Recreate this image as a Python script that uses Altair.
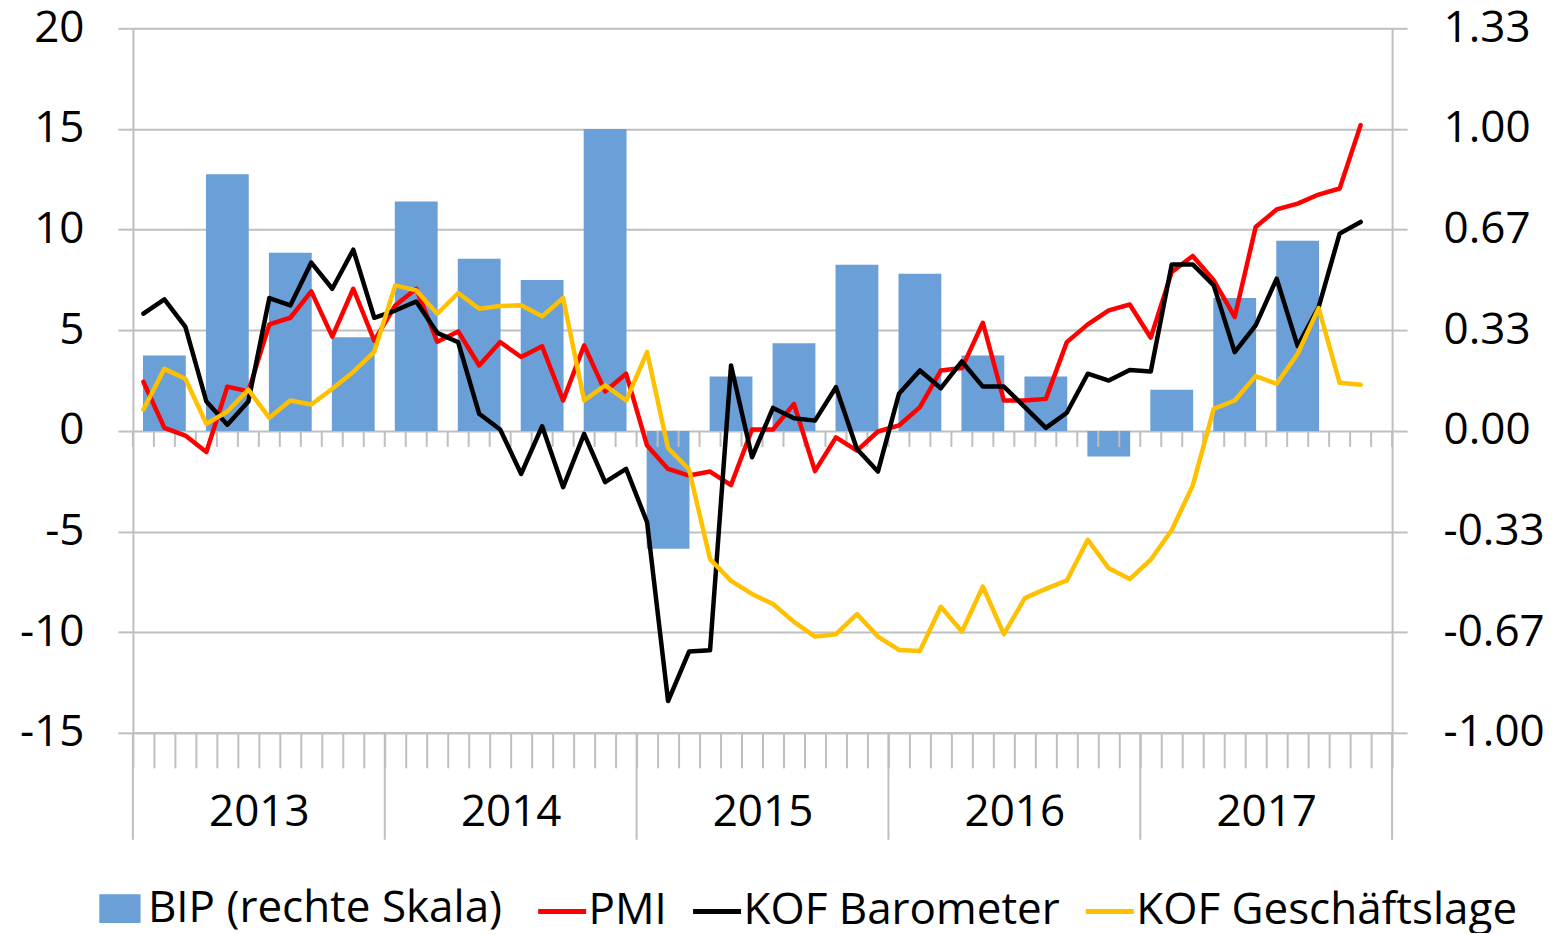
import altair as alt
import pandas as pd

# ---------------- data ----------------
years = [2013, 2014, 2015, 2016, 2017]
n_months = 60

# Quarterly GDP growth (right scale), 2013Q1 .. 2017Q3
bip = [0.25, 0.85, 0.59, 0.31,
       0.76, 0.57, 0.50, 1.00,
       -0.39, 0.18, 0.29, 0.55,
       0.52, 0.25, 0.18, -0.085,
       0.136, 0.44, 0.63]

# Monthly series, Jan 2013 .. Nov 2017 (left scale)
pmi = [2.44, 0.15, -0.23, -1.05, 2.2, 1.96, 5.29, 5.62, 6.93, 4.68, 7.06, 4.48,
       6.23, 7.06, 4.43, 4.94, 3.25, 4.41, 3.67, 4.2, 1.51, 4.25, 1.96, 2.84,
       -0.73, -1.89, -2.22, -2.02, -2.69, 0.07, 0.07, 1.34, -2.0, -0.32, -0.98, -0.03,
       0.27, 1.18, 3.0, 3.12, 5.37, 1.51, 1.51, 1.59, 4.41, 5.29, 5.99, 6.28,
       4.63, 7.9, 8.69, 7.48, 5.66, 10.13, 11.0, 11.29, 11.74, 12.04, 15.19]

kof_barometer = [5.82, 6.53, 5.17, 1.46, 0.31, 1.46, 6.6, 6.23, 8.36, 7.06, 9.0, 5.62,
                 5.98, 6.43, 4.87, 4.4, 0.85, 0.07, -2.14, 0.23, -2.8, -0.15, -2.55, -1.89,
                 -4.54, -13.42, -10.96, -10.9, 3.25, -1.31, 1.14, 0.63, 0.51, 2.17, -0.9, -2.02,
                 1.84, 3.0, 2.12, 3.45, 2.2, 2.2, 1.18, 0.15, 0.9, 2.84, 2.5, 3.03,
                 2.95, 8.27, 8.27, 7.23, 3.91, 5.24, 7.56, 4.21, 6.15, 9.8, 10.38]

kof_lage = [1.06, 3.08, 2.59, 0.35, 0.96, 2.05, 0.65, 1.51, 1.31, 2.09, 2.93, 3.93,
            7.23, 6.98, 5.82, 6.85, 6.07, 6.2, 6.24, 5.69, 6.6, 1.51, 2.26, 1.51,
            3.91, -0.86, -1.92, -6.37, -7.45, -8.1, -8.6, -9.49, -10.22, -10.1, -9.1, -10.22,
            -10.88, -10.93, -8.74, -9.97, -7.73, -10.1, -8.31, -7.85, -7.43, -5.41, -6.83, -7.36,
            -6.4, -4.92, -2.72, 1.09, 1.51, 2.72, 2.34, 3.83, 6.1, 2.39, 2.29]

left_ticks = [-15, -10, -5, 0, 5, 10, 15, 20]
right_ticks = [v / 15 for v in left_ticks]

bar_name = "BIP (rechte Skala)"
bar_color = "#6A9FD8"
line_names = ["PMI", "KOF Barometer", "KOF Geschäftslage"]
line_colors = ["#FF0000", "#000000", "#FFC000"]

# ---------------- tables ----------------
rows = []
for name, vals in zip(line_names, [pmi, kof_barometer, kof_lage]):
    for i, v in enumerate(vals):
        rows.append({"series": name, "m": i + 0.5, "value": v})
lines_df = pd.DataFrame(rows)

bar_df = pd.DataFrame({"series": bar_name, "q": list(range(len(bip))), "value": bip})
bar_df["x0"] = bar_df["q"] * 3 + 1.5 - 1.02
bar_df["x1"] = bar_df["q"] * 3 + 1.5 + 1.02

month_ticks = pd.DataFrame({"m": list(range(n_months + 1))})
year_bounds = pd.DataFrame({"m": [12 * i for i in range(len(years) + 1)]})

GRAY = "#BFBFBF"
FONT = "Open Sans"
FS = 44

x_scale = alt.Scale(domain=[0, n_months], nice=False, zero=False)
x_axis = alt.Axis(
    values=list(range(n_months + 1)),
    labelExpr="datum.value % 12 == 6 ? toString(2013 + (datum.value - 6) / 12) : ''",
    labelOverlap=False, labelFlush=False, labelBound=False,
    tickSize=35, tickColor=GRAY, tickWidth=2,
    domainColor=GRAY, domainWidth=2, grid=False,
    labelFontSize=FS, labelFont=FONT, labelColor="black", labelPadding=23,
    title=None,
)

y_left_scale = alt.Scale(domain=[-15, 20], nice=False, zero=False)
y_left_axis = alt.Axis(
    orient="left", values=left_ticks,
    labelExpr="datum.value < 0 ? '-' + format(-datum.value, 'd') : format(datum.value, 'd')",
    grid=True, gridColor=GRAY, gridWidth=2,
    domainColor=GRAY, domainWidth=2,
    tickSize=15, tickColor=GRAY, tickWidth=2,
    labelFontSize=FS, labelFont=FONT, labelColor="black", labelPadding=34,
    title=None,
)
y_right_scale = alt.Scale(domain=[-1, 4 / 3], nice=False, zero=False)
y_right_axis = alt.Axis(
    orient="right", values=right_ticks,
    labelExpr="datum.value < -0.0001 ? '-' + format(-datum.value, '.2f') : format(abs(datum.value), '.2f')",
    grid=False, domainColor=GRAY, domainWidth=2,
    tickSize=15, tickColor=GRAY, tickWidth=2,
    labelFontSize=FS, labelFont=FONT, labelColor="black", labelPadding=36,
    title=None,
)

legend_common = dict(
    orient="none", direction="horizontal", title=None,
    labelFontSize=FS, labelFont=FONT, labelColor="black", labelLimit=700,
    symbolSize=2304, columnPadding=15, symbolOpacity=1,
)
fill_legend = alt.Legend(legendX=-37, legendY=857, labelOffset=4,
                         symbolType="M-0.86,-0.6H0.86V0.6H-0.86Z", symbolStrokeWidth=0,
                         **legend_common)
stroke_legend = alt.Legend(legendX=403, legendY=857, labelOffset=0, symbolType="stroke",
                           symbolStrokeWidth=5, **legend_common)

bars = alt.Chart(bar_df).mark_bar(opacity=1).encode(
    x=alt.X("x0:Q", scale=x_scale, axis=x_axis),
    x2="x1:Q",
    y=alt.Y("value:Q", scale=y_right_scale, axis=y_right_axis),
    y2=alt.datum(0),
    fill=alt.Fill("series:N", scale=alt.Scale(domain=[bar_name], range=[bar_color]), legend=fill_legend),
)

zero_ticks = alt.Chart(month_ticks).mark_rule(color=GRAY, strokeWidth=2, y2Offset=16).encode(
    x=alt.X("m:Q", scale=x_scale, axis=x_axis),
    y=alt.datum(0, scale=y_left_scale, axis=y_left_axis),
    y2=alt.datum(0),
)
separators = alt.Chart(year_bounds).mark_rule(color=GRAY, strokeWidth=2, y2Offset=107).encode(
    x=alt.X("m:Q", scale=x_scale, axis=x_axis),
    y=alt.datum(-15),
    y2=alt.datum(-15),
)

stroke = alt.Stroke("series:N", scale=alt.Scale(domain=line_names, range=line_colors), legend=stroke_legend)
line_layers = []
for name in line_names:
    line_layers.append(
        alt.Chart(lines_df).transform_filter(alt.datum.series == name)
        .mark_line(strokeWidth=4.5, strokeCap="round", strokeJoin="round")
        .encode(
            x=alt.X("m:Q", scale=x_scale, axis=x_axis),
            y=alt.Y("value:Q", scale=y_left_scale, axis=y_left_axis),
            stroke=stroke,
        )
    )

left = alt.layer(zero_ticks, separators, *line_layers)

chart = alt.layer(bars, left).resolve_scale(y="independent").properties(
    width=1260, height=705,
    autosize=alt.AutoSizeParams(type="none"),
    padding={"left": 125, "top": 20, "right": 155, "bottom": 200},
).configure_view(stroke=None).configure(background="white")

chart.save("out.html", embed_options={"renderer": "svg", "actions": False})
